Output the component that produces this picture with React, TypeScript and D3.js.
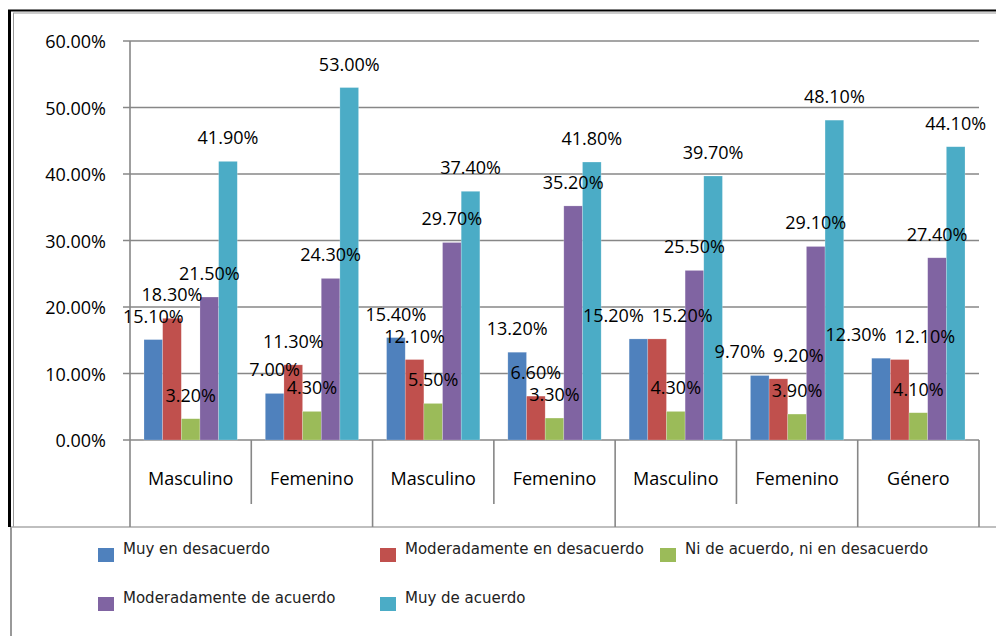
import React, { useEffect } from "react";
import * as d3 from "d3";

// categories on the x axis, grouped in pairs (last group has one)
const categories = ["Masculino", "Femenino", "Masculino", "Femenino", "Masculino", "Femenino", "Género"];
const groupSizes = [2, 2, 2, 1];

const seriesNames = [
  "Muy en desacuerdo",
  "Moderadamente en desacuerdo",
  "Ni de acuerdo, ni en desacuerdo",
  "Moderadamente de acuerdo",
  "Muy de acuerdo",
];
const seriesColors = ["#4F81BD", "#C0504D", "#9BBB59", "#8064A2", "#4BACC6"];

// values in percent
const muyDesacuerdo = [15.1, 7.0, 15.4, 13.2, 15.2, 9.7, 12.3];
const modDesacuerdo = [18.3, 11.3, 12.1, 6.6, 15.2, 9.2, 12.1];
const niNi = [3.2, 4.3, 5.5, 3.3, 4.3, 3.9, 4.1];
const modAcuerdo = [21.5, 24.3, 29.7, 35.2, 25.5, 29.1, 27.4];
const muyAcuerdo = [41.9, 53.0, 37.4, 41.8, 39.7, 48.1, 44.1];
const seriesValues = [muyDesacuerdo, modDesacuerdo, niNi, modAcuerdo, muyAcuerdo];

const yTicks = [0, 10, 20, 30, 40, 50, 60];

const W = 996;
const H = 636;
const plot = { left: 130, right: 979, top: 41, bottom: 440 };
const FONT = "'Open Sans', sans-serif";
const LEGEND_FONT = "'DejaVu Sans', sans-serif";
const GRID = "#878787";

const fmt = (v: number) => v.toFixed(2) + "%";
const labelWidth = (s: string) => {
  // rough Open Sans advance widths at 18px
  let w = 0;
  for (const ch of s) w += ch === "." ? 0.266 : ch === "%" ? 0.823 : 0.572;
  return w * 18;
};

export default function App() {
  useEffect(() => {
    document.body.style.margin = "0";
  }, []);

  const x0 = d3.scaleBand<number>().domain(categories.map((_, i) => i)).range([plot.left, plot.right]).padding(0);
  const x1 = d3.scaleBand<number>().domain(seriesNames.map((_, i) => i)).range([0, x0.bandwidth()])
    .paddingInner(0).paddingOuter(0.75);
  const y = d3.scaleLinear().domain([0, 60]).range([plot.bottom, plot.top]);

  // data labels, pushed apart when neighbours collide
  const labels: { text: string; cx: number; by: number }[] = [];
  categories.forEach((_, ci) => {
    const row = seriesValues.map((vals, si) => {
      const v = vals[ci];
      return { text: fmt(v), cx: x0(ci)! + x1(si)! + x1.bandwidth() / 2, by: y(v) - 17 };
    });
    for (let i = 1; i < row.length; i++) {
      const a = row[i - 1], b = row[i];
      const half = (labelWidth(a.text) + labelWidth(b.text)) / 2;
      if (Math.abs(a.by - b.by) < 15 && Math.abs(b.cx - a.cx) < half) {
        const need = half - Math.abs(b.cx - a.cx) + 8;
        a.cx -= need / 2;
        b.cx += need / 2;
      }
    }
    labels.push(...row);
  });

  // category separators: short inside groups, tall between groups
  const seps: { x: number; tall: boolean }[] = [{ x: plot.left, tall: true }];
  let idx = 0;
  groupSizes.forEach((n) => {
    for (let k = 1; k <= n; k++) {
      idx++;
      const xs = idx < categories.length ? x0(idx)! : plot.right;
      seps.push({ x: xs, tall: k === n });
    }
  });

  const legendRows = [
    [0, 1, 2],
    [3, 4],
  ];
  const legendCols = [98, 380, 660];
  const legendBase = [554, 603];

  return (
    <svg width={W} height={H} style={{ position: "absolute", left: 0, top: 0, background: "#fff" }}>
      <rect width={W} height={H} fill="#fff" />

      {/* outer frame */}
      <line x1={8} x2={W} y1={10.5} y2={10.5} stroke="#000" strokeWidth={2} />
      <line x1={13} x2={W} y1={13} y2={13} stroke="#999" strokeWidth={1} />
      <line x1={9.5} x2={9.5} y1={10} y2={527} stroke="#000" strokeWidth={3} />
      <line x1={13.5} x2={13.5} y1={13} y2={527} stroke="#999" strokeWidth={1} />
      <line x1={11} x2={11} y1={527} y2={H} stroke="#999" strokeWidth={2} />
      <line x1={11} x2={W} y1={527} y2={527} stroke="#aaa" strokeWidth={1.5} />

      {/* gridlines & y axis */}
      {yTicks.map((t) => (
        <g key={t}>
          <line x1={plot.left - 7} x2={plot.right} y1={y(t)} y2={y(t)} stroke={GRID} strokeWidth={1.6} />
          <text x={106} y={y(t) + 7} textAnchor="end" fontFamily={FONT} fontSize={18} fill="#000">
            {fmt(t)}
          </text>
        </g>
      ))}
      <line x1={plot.left} x2={plot.left} y1={plot.top} y2={plot.bottom} stroke={GRID} strokeWidth={1.6} />

      {/* bars */}
      {seriesValues.map((vals, si) =>
        vals.map((v, ci) => (
          <rect
            key={`${si}-${ci}`}
            x={x0(ci)! + x1(si)!}
            y={y(v)}
            width={x1.bandwidth()}
            height={y(0) - y(v)}
            fill={seriesColors[si]}
            stroke="#fff"
            strokeOpacity={0.35}
            strokeWidth={0.6}
          />
        ))
      )}

      {/* category axis */}
      {seps.map((s, i) => (
        <line key={i} x1={s.x} x2={s.x} y1={plot.bottom} y2={s.tall ? 527 : 504} stroke={GRID} strokeWidth={1.6} />
      ))}
      {categories.map((c, i) => (
        <text key={i} x={x0(i)! + x0.bandwidth() / 2} y={485} textAnchor="middle" fontFamily={FONT} fontSize={18} fill="#000">
          {c}
        </text>
      ))}

      {/* data labels */}
      {labels.map((l, i) => (
        <text key={i} x={l.cx} y={l.by} textAnchor="middle" fontFamily={FONT} fontSize={18} fill="#000">
          {l.text}
        </text>
      ))}

      {/* legend */}
      {legendRows.map((row, ri) =>
        row.map((si, k) => (
          <g key={si}>
            <rect x={legendCols[k]} y={legendBase[ri] - 6} width={16} height={14} fill={seriesColors[si]} />
            <text x={legendCols[k] + 25} y={legendBase[ri]} fontFamily={LEGEND_FONT} fontSize={15} fill="#222">
              {seriesNames[si]}
            </text>
          </g>
        ))
      )}
    </svg>
  );
}
